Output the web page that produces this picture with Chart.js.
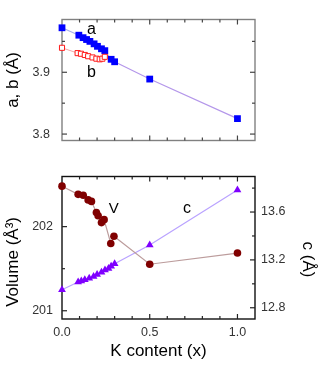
<!DOCTYPE html>
<html><head><meta charset="utf-8">
<script src="https://cdn.jsdelivr.net/npm/chart.js@4.4.0/dist/chart.umd.min.js"></script>
<style>
html,body{margin:0;padding:0;background:#fff;}
#wrap{position:relative;width:332px;height:368px;}
canvas{position:absolute;left:0;}
</style>
</head><body>
<div id="wrap">
<canvas id="topc" width="332" height="160" style="top:0"></canvas>
<canvas id="botc" width="332" height="208" style="top:160px"></canvas>
</div>
<script>
// ---- data ----
const xA = [0, 0.096, 0.12, 0.14, 0.159, 0.183, 0.202, 0.225, 0.244, 0.28, 0.30, 0.5, 1.0];
const aVals = [3.972, 3.960, 3.956, 3.953, 3.950, 3.946, 3.942, 3.938, 3.935, 3.921, 3.917, 3.889, 3.825];
const xB = [0, 0.089, 0.108, 0.13, 0.149, 0.174, 0.196, 0.215, 0.23, 0.244];
const bVals = [3.9396, 3.931, 3.930, 3.928, 3.926, 3.924, 3.922, 3.921, 3.922, 3.925];
const xV = [0, 0.092, 0.121, 0.149, 0.168, 0.196, 0.206, 0.225, 0.24, 0.278, 0.296, 0.5, 1.0];
const volVals = [202.481, 202.384, 202.373, 202.318, 202.30, 202.167, 202.13, 202.048, 202.083, 201.80, 201.885, 201.553, 201.686];
const xC = [0, 0.092, 0.11, 0.13, 0.155, 0.18, 0.2, 0.225, 0.245, 0.265, 0.28, 0.3, 0.5, 1.0];
const cVals = [12.951, 13.015, 13.023, 13.035, 13.046, 13.061, 13.078, 13.096, 13.116, 13.129, 13.146, 13.167, 13.324, 13.784];

// ---- tick labels ----
const xTickLabels = [0, 0.5, 1.0];
const abTickLabels = [3.8, 3.9];
const volTickLabels = [201, 202];
const cTickLabels = [12.8, 13.2, 13.6];
const abMinor = [3.85, 3.95];
const volMinor = [201.5, 202.5];
const cMinor = [13.0, 13.4, 13.8];

const FONT = "'Liberation Sans', Arial, sans-serif";
Chart.defaults.font.family = FONT;
Chart.defaults.color = '#333';

const toPts = (xs, ys) => xs.map((x, i) => ({x, y: ys[i]}));
const setTicks = arr => (s) => { s.ticks = arr.map(v => ({value: v})); };

function framePlugin(o) {
  return {
    id: 'frame',
    beforeDatasetsDraw(chart) {
      const {ctx, chartArea: a, scales} = chart;
      ctx.save();
      ctx.strokeStyle = o.color;
      ctx.lineWidth = 1.4;
      ctx.strokeRect(a.left, a.top, a.right - a.left, a.bottom - a.top);
      ctx.strokeStyle = o.tickColor;
      ctx.lineWidth = 1.2;
      const line = (x1, y1, x2, y2) => { ctx.beginPath(); ctx.moveTo(x1, y1); ctx.lineTo(x2, y2); ctx.stroke(); };
      for (let i = 1; i <= 10; i++) {
        const v = i / 10;
        const major = (i % 5 === 0);
        const L = major ? 5 : 3;
        const px = scales.x.getPixelForValue(v);
        line(px, a.bottom, px, a.bottom - L);
        line(px, a.top, px, a.top + L);
      }
      const yT = (scale, vals, L, side) => vals.forEach(v => {
        const py = scale.getPixelForValue(v);
        if (py < a.top + 1 || py > a.bottom - 1) return;
        if (side === 'left' || side === 'both') line(a.left, py, a.left + L, py);
        if (side === 'right' || side === 'both') line(a.right, py, a.right - L, py);
      });
      o.yTicks.forEach(t => yT(scales[t.id], t.major, 5, t.side));
      o.yTicks.forEach(t => yT(scales[t.id], t.minor, 3, t.side));
      ctx.restore();
    }
  };
}

function labelPlugin(items) {
  return {
    id: 'labels',
    afterDatasetsDraw(chart) {
      const {ctx, scales} = chart;
      ctx.save();
      ctx.fillStyle = '#000';
      ctx.textAlign = 'center';
      ctx.textBaseline = 'middle';
      items.forEach(it => {
        ctx.font = it.size + 'px ' + FONT;
        ctx.fillText(it.text, scales.x.getPixelForValue(it.x), scales[it.axis].getPixelForValue(it.y));
      });
      ctx.restore();
    }
  };
}

const commonPlugins = { legend: {display: false}, tooltip: {enabled: false} };

// ---- top chart ----
new Chart(document.getElementById('topc'), {
  type: 'scatter',
  data: {
    datasets: [
      {
        data: toPts(xB, bVals), showLine: true, clip: false,
        borderColor: '#f2a7a7', borderWidth: 1,
        pointStyle: 'rect', pointRadius: 3.6, pointBorderColor: '#ff1a1a', pointBorderWidth: 1,
        pointBackgroundColor: '#ffffff'
      },
      {
        data: toPts(xA, aVals), showLine: true, clip: false,
        borderWidth: 1.2,
        segment: { borderColor: c => c.p0.parsed.x >= 0.27 ? '#b497ea' : '#a9b1ea' },
        borderColor: '#a9b1ea',
        pointStyle: 'rect', pointRadius: 4.8, pointBorderWidth: 0,
        pointBackgroundColor: '#0000ff', pointBorderColor: '#0000ff'
      }
    ]
  },
  options: {
    responsive: false, animation: false,
    layout: { padding: {top: 2, bottom: 2, left: 0, right: 77} },
    plugins: commonPlugins,
    scales: {
      x: { type: 'linear', min: 0, max: 1.1, display: false },
      y: {
        type: 'linear', position: 'left', min: 3.7896, max: 3.9854,
        afterBuildTicks: setTicks(abTickLabels),
        afterFit: s => { s.width = 62; },
        grid: {display: false, drawTicks: false}, border: {display: false},
        ticks: { padding: 12, font: {size: 12.5}, color: '#333', callback: v => v.toFixed(1) },
        title: { display: true, text: 'a, b (Å)', font: {size: 17}, color: '#000', padding: {top: 3, bottom: 0} }
      }
    }
  },
  plugins: [
    framePlugin({ color: '#808080', tickColor: '#444', yTicks: [ {id: 'y', major: abTickLabels, minor: abMinor, side: 'both'} ] }),
    labelPlugin([
      {text: 'a', x: 0.168, y: 3.969, axis: 'y', size: 16},
      {text: 'b', x: 0.168, y: 3.900, axis: 'y', size: 16}
    ])
  ]
});

// ---- bottom chart ----
new Chart(document.getElementById('botc'), {
  type: 'scatter',
  data: {
    datasets: [
      {
        data: toPts(xV, volVals), showLine: true, clip: false, yAxisID: 'y',
        borderColor: '#bc9c9c', borderWidth: 1.2,
        pointStyle: 'circle', pointRadius: 3.8, pointBorderWidth: 0,
        pointBackgroundColor: '#800000', pointBorderColor: '#800000'
      },
      {
        data: toPts(xC, cVals), showLine: true, clip: false, yAxisID: 'y2',
        borderColor: '#b9a2ff', borderWidth: 1.2,
        pointStyle: 'triangle', pointRadius: 4.5, pointBorderWidth: 0,
        pointBackgroundColor: '#7f00ff', pointBorderColor: '#7f00ff'
      }
    ]
  },
  options: {
    responsive: false, animation: false,
    layout: { padding: {top: 3, bottom: 0, left: 0, right: 0} },
    plugins: commonPlugins,
    scales: {
      x: {
        type: 'linear', min: 0, max: 1.1, position: 'bottom',
        afterBuildTicks: setTicks(xTickLabels),
        afterFit: s => { s.height = 49; },
        grid: {display: false, drawTicks: false}, border: {display: false},
        ticks: { padding: 6, font: {size: 12.5}, color: '#333', maxRotation: 0, callback: v => v.toFixed(1) },
        title: { display: true, text: 'K content (x)', font: {size: 17}, color: '#000', padding: {top: 0, bottom: 6} }
      },
      y: {
        type: 'linear', position: 'left', min: 200.902, max: 202.596,
        afterBuildTicks: setTicks(volTickLabels),
        afterFit: s => { s.width = 62; },
        grid: {display: false, drawTicks: false}, border: {display: false},
        ticks: { padding: 9, font: {size: 12.5}, color: '#333', callback: v => String(v) },
        title: { display: true, text: 'Volume (Å³)      ', font: {size: 17}, color: '#000', padding: {top: 3, bottom: 0} }
      },
      y2: {
        type: 'linear', position: 'right', min: 12.706, max: 13.897,
        afterBuildTicks: setTicks(cTickLabels),
        afterFit: s => { s.width = 77; },
        grid: {display: false, drawTicks: false}, border: {display: false},
        ticks: { padding: 6, font: {size: 12.5}, color: '#333', callback: v => v.toFixed(1) },
        title: { display: true, text: '     c (Å)', font: {size: 17}, color: '#000', padding: {top: 14, bottom: 0} }
      }
    }
  },
  plugins: [
    framePlugin({ color: '#111', tickColor: '#222', yTicks: [
      {id: 'y', major: volTickLabels, minor: volMinor, side: 'left'},
      {id: 'y2', major: cTickLabels, minor: cMinor, side: 'right'}
    ] }),
    labelPlugin([
      {text: 'V', x: 0.295, y: 202.213, axis: 'y', size: 15},
      {text: 'c', x: 0.712, y: 202.213, axis: 'y', size: 16}
    ])
  ]
});
</script>
</body></html>
